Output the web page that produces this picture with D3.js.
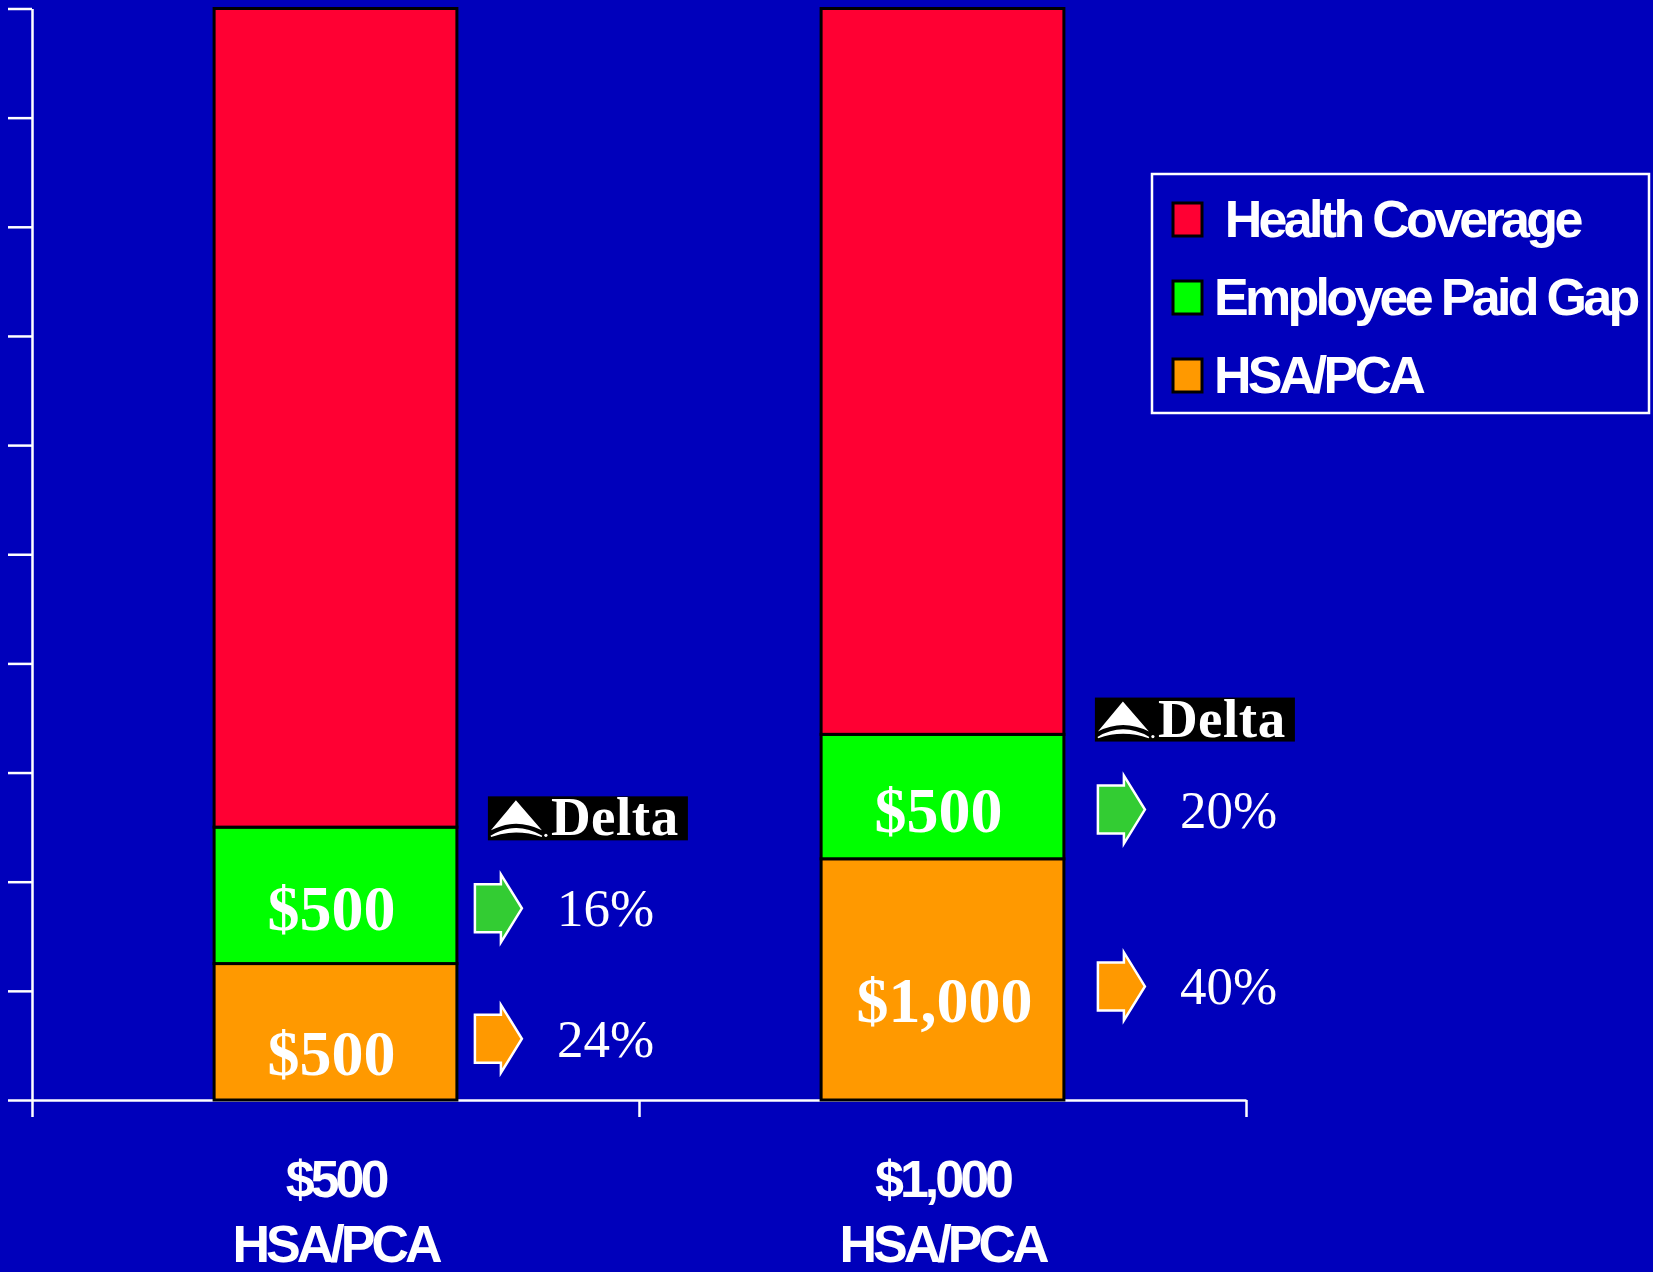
<!DOCTYPE html>
<html>
<head>
<meta charset="utf-8">
<script src="https://cdn.jsdelivr.net/npm/d3@7"></script>
<style>
  html, body { margin: 0; padding: 0; background: #0000bb; }
  svg { display: block; }
</style>
</head>
<body>
<div id="chart"></div>
<script>
// data (share of each bar, in %)
const categories = ['$500 HSA/PCA', '$1,000 HSA/PCA'];
const categoryLines = [['$500', 'HSA/PCA'], ['$1,000', 'HSA/PCA']];
const seriesKeys = ['hsa', 'gap', 'health'];
const seriesNames = ['HSA/PCA', 'Employee Paid Gap', 'Health Coverage'];
const hsaPca = [12.5, 22.1];
const employeeGap = [12.5, 11.4];
const healthCoverage = [75, 66.5];
const hsaLabels = ['$500', '$1,000'];
const gapLabels = ['$500', '$500'];
const gapShare = ['16%', '20%'];
const hsaShare = ['24%', '40%'];
const yTicks = [0, 10, 20, 30, 40, 50, 60, 70, 80, 90, 100];

const W = 1653, H = 1272;
const colors = {hsa: '#ff9900', gap: '#00ff00', health: '#ff0033'};
const arrowColors = {hsa: '#ff9900', gap: '#33cc33'};
const annotDx = [0, 16];
const labelDy = {hsa: 43, gap: 35};
const annotDy = {hsa: 7, gap: 13};

const rows = categories.map((c, i) => ({
  cat: c, hsa: hsaPca[i], gap: employeeGap[i], health: healthCoverage[i]
}));

const svg = d3.select('#chart')
  .append('svg')
  .attr('width', W)
  .attr('height', H);

svg.append('rect')
  .attr('width', W).attr('height', H)
  .attr('fill', '#0000bb');

const x = d3.scaleBand()
  .domain(categories)
  .range([32, 1246]);

const y = d3.scaleLinear()
  .domain([0, 100])
  .range([1100, 8.5]);

const barW = x.bandwidth() * 0.4;
const barX = d => x(d) + (x.bandwidth() - barW) / 2;

const stacked = d3.stack().keys(seriesKeys)(rows);

// axes
const yAxis = svg.append('g')
  .attr('transform', 'translate(32,0)')
  .call(d3.axisLeft(y).tickValues(yTicks).tickSize(24).tickSizeOuter(0).tickFormat(''));

const xPos = d3.scaleLinear().domain([0, categories.length]).range(x.range());
const xAxis = svg.append('g')
  .attr('transform', 'translate(0,1100)')
  .call(d3.axisBottom(xPos).tickValues(d3.range(categories.length + 1)).tickSize(17).tickSizeOuter(0).tickFormat(''));

[yAxis, xAxis].forEach(a => {
  a.selectAll('path, line').attr('stroke', '#ffffff').attr('stroke-width', 2.5);
});

// bars
const layers = svg.selectAll('.layer')
  .data(stacked)
  .enter()
  .append('g')
  .attr('class', 'layer')
  .attr('fill', d => colors[d.key]);

layers.selectAll('rect')
  .data(d => d)
  .enter()
  .append('rect')
  .attr('x', d => barX(d.data.cat))
  .attr('width', barW)
  .attr('y', d => y(d[1]))
  .attr('height', d => y(d[0]) - y(d[1]))
  .attr('stroke', '#000000')
  .attr('stroke-width', 3);

// value labels inside segments
const segLabels = {hsa: hsaLabels, gap: gapLabels};
const shares = {hsa: hsaShare, gap: gapShare};

stacked.filter(s => s.key !== 'health').forEach(s => {
  s.forEach((d, i) => {
    const mid = (y(d[0]) + y(d[1])) / 2;
    svg.append('text')
      .attr('x', x(d.data.cat) + x.bandwidth() / 2 - 4 + (i ? 6 : 0) * (s.key === 'hsa'))
      .attr('y', mid + labelDy[s.key])
      .attr('text-anchor', 'middle')
      .attr('fill', '#ffffff')
      .style('font-family', '"Liberation Serif", "Times New Roman", serif')
      .style('font-weight', 'bold')
      .style('font-size', '64px')
      .text(segLabels[s.key][i]);

    // arrow + share
    const cy = mid + annotDy[s.key];
    const x0 = barX(d.data.cat) + barW + 18 + annotDx[i];
    svg.append('path')
      .attr('d', `M${x0},${cy - 24}L${x0 + 26},${cy - 24}L${x0 + 26},${cy - 34}L${x0 + 47},${cy}` +
        `L${x0 + 26},${cy + 34}L${x0 + 26},${cy + 24}L${x0},${cy + 24}Z`)
      .attr('fill', arrowColors[s.key])
      .attr('stroke', '#ffffff')
      .attr('stroke-width', 2.5);

    svg.append('text')
      .attr('x', x0 + 82)
      .attr('y', cy + 18)
      .attr('fill', '#ffffff')
      .style('font-family', '"Liberation Serif", "Times New Roman", serif')
      .style('font-size', '53px')
      .text(shares[s.key][i]);

    if (s.key === 'gap') drawDelta(barX(d.data.cat) + barW + 31, cy - 68 - 44);
  });
});

function drawDelta(bx, by) {
  const g = svg.append('g').attr('transform', `translate(${bx},${by})`);
  g.append('rect').attr('width', 200).attr('height', 44).attr('fill', '#000000');
  // widget
  g.append('path')
    .attr('d', 'M28,4L3,34Q28,21 54,34Z')
    .attr('fill', '#ffffff');
  g.append('path')
    .attr('d', 'M3,40Q28,25 54,40Q28,31 3,40Z')
    .attr('fill', '#ffffff')
    .attr('stroke', '#ffffff')
    .attr('stroke-width', 1.5);
  g.append('circle').attr('cx', 58).attr('cy', 39).attr('r', 1.6).attr('fill', '#ffffff');
  g.append('text')
    .attr('x', 63)
    .attr('y', 39)
    .attr('fill', '#ffffff')
    .style('font-family', '"Liberation Serif", "Times New Roman", serif')
    .style('font-weight', 'bold')
    .style('font-size', '55px')
    .style('letter-spacing', '0.5px')
    .text('Delta');
}

// category labels
const sansBold = g => g
  .attr('fill', '#ffffff')
  .style('font-family', '"Liberation Sans", Arial, sans-serif')
  .style('font-weight', 'bold')
  .style('font-size', '52px')
  .style('letter-spacing', '-4px');

categories.forEach((c, i) => {
  const t = svg.append('text')
    .attr('text-anchor', 'middle')
    .call(sansBold);
  categoryLines[i].forEach((line, j) => {
    t.append('tspan')
      .attr('x', x(c) + x.bandwidth() / 2)
      .attr('y', 1197 + j * 65)
      .text(line);
  });
});

// legend
const legend = svg.append('g').attr('transform', 'translate(1152,174)');
legend.append('rect')
  .attr('width', 497).attr('height', 239)
  .attr('fill', 'none')
  .attr('stroke', '#ffffff')
  .attr('stroke-width', 2.5);

const legendItems = seriesKeys.slice().reverse();
const li = legend.selectAll('.item')
  .data(legendItems)
  .enter()
  .append('g')
  .attr('class', 'item')
  .attr('transform', (d, i) => `translate(0,${63 + i * 78})`);

li.append('rect')
  .attr('x', 21).attr('y', -34)
  .attr('width', 29).attr('height', 33)
  .attr('fill', d => colors[d])
  .attr('stroke', '#000000')
  .attr('stroke-width', 3);

li.append('text')
  .attr('x', 62)
  .attr('y', 0)
  .style('white-space', 'pre')
  .call(sansBold)
  .style('letter-spacing', '-3.7px')
  .text(d => (d === 'health' ? ' ' : '') + seriesNames[seriesKeys.indexOf(d)]);
</script>
</body>
</html>
